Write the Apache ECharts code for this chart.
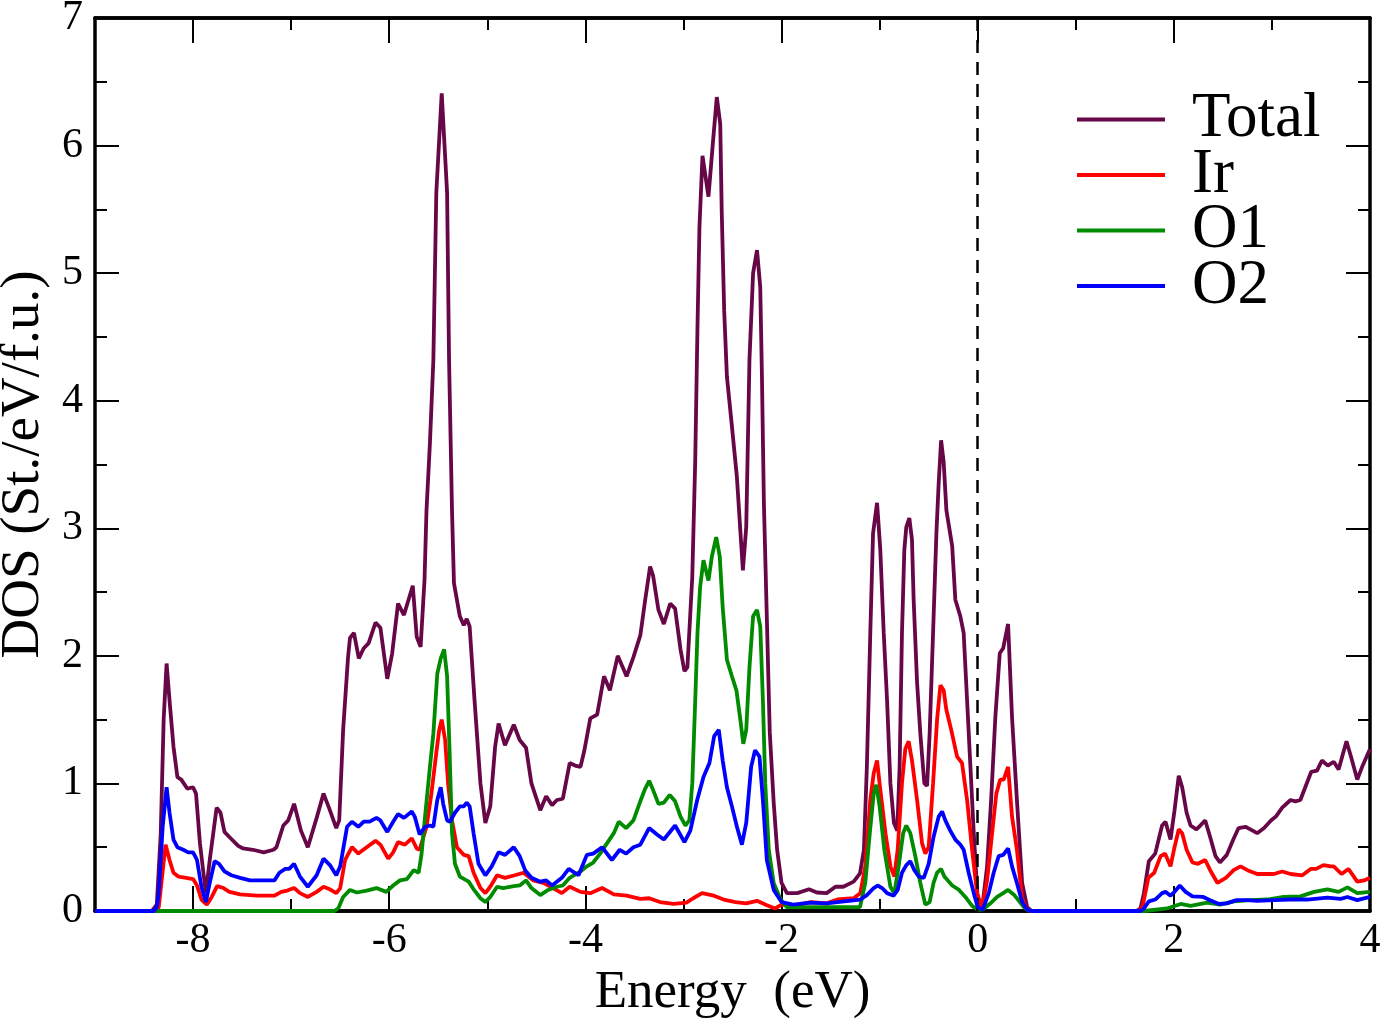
<!DOCTYPE html>
<html>
<head>
<meta charset="utf-8">
<title>DOS</title>
<script src="https://cdn.jsdelivr.net/npm/echarts@6.0.0/dist/echarts.min.js"></script>
<style>
    html, body { margin: 0; padding: 0; background: #fff; }
    #chart-container { width: 1384px; height: 1019px; }
</style>
</head>
<body>
<div id="chart-container"></div>
<script>
// 图例名称
const seriesNames = ['Total', 'Ir', 'O1', 'O2'];
const seriesColors = ['#670748', '#ff0000', '#008b00', '#0000ff'];

// 坐标轴刻度
const xMajorTicks = [-8, -6, -4, -2, 0, 2, 4];
const xMinorTicks = [-7, -5, -3, -1, 1, 3];

// [能量 (eV), DOS] 数据点
const totalDos = [
    [-9, 0], [-8.42, 0], [-8.37, 0.05], [-8.33, 0.6], [-8.30, 1.5], [-8.27, 1.94], [-8.24, 1.65], [-8.20, 1.29],
    [-8.16, 1.05], [-8.12, 1.03], [-8.06, 0.96], [-8.0, 0.97], [-7.97, 0.92], [-7.93, 0.53], [-7.87, 0.14],
    [-7.83, 0.40], [-7.76, 0.81], [-7.72, 0.77], [-7.68, 0.62], [-7.63, 0.58], [-7.54, 0.51], [-7.49, 0.49],
    [-7.39, 0.48], [-7.28, 0.46], [-7.18, 0.48], [-7.15, 0.50], [-7.08, 0.67], [-7.03, 0.71], [-6.97, 0.84],
    [-6.90, 0.63], [-6.83, 0.50], [-6.74, 0.73], [-6.67, 0.92], [-6.61, 0.80], [-6.54, 0.65], [-6.51, 0.71],
    [-6.47, 1.42], [-6.42, 1.99], [-6.40, 2.14], [-6.36, 2.18], [-6.31, 1.98], [-6.26, 2.06], [-6.21, 2.10],
    [-6.14, 2.26], [-6.09, 2.22], [-6.02, 1.82], [-5.97, 2.02], [-5.91, 2.41], [-5.85, 2.32], [-5.76, 2.55],
    [-5.72, 2.15], [-5.68, 2.07], [-5.64, 2.6], [-5.62, 3.14], [-5.585, 3.67], [-5.55, 4.32], [-5.52, 5.63],
    [-5.465, 6.41], [-5.41, 5.63], [-5.39, 4.32], [-5.36, 3.14], [-5.34, 2.57], [-5.28, 2.31], [-5.24, 2.24],
    [-5.21, 2.29], [-5.18, 2.23], [-5.13, 1.65], [-5.07, 1.0], [-5.02, 0.69], [-4.97, 0.82], [-4.92, 1.29],
    [-4.885, 1.47], [-4.82, 1.30], [-4.73, 1.46], [-4.67, 1.34], [-4.605, 1.28], [-4.55, 1.0], [-4.46, 0.79],
    [-4.40, 0.90], [-4.34, 0.83], [-4.29, 0.87], [-4.23, 0.88], [-4.16, 1.16], [-4.105, 1.14], [-4.05, 1.13],
    [-4.01, 1.26], [-3.95, 1.51], [-3.88, 1.54], [-3.81, 1.84], [-3.75, 1.73], [-3.67, 2.0], [-3.65, 1.99],
    [-3.58, 1.84], [-3.51, 1.99], [-3.44, 2.16], [-3.39, 2.44], [-3.34, 2.70], [-3.31, 2.63], [-3.255, 2.36],
    [-3.20, 2.25], [-3.135, 2.41], [-3.085, 2.37], [-3.03, 2.05], [-2.99, 1.88], [-2.96, 1.91], [-2.91, 2.62],
    [-2.88, 3.53], [-2.857, 4.58], [-2.837, 5.36], [-2.806, 5.92], [-2.745, 5.60], [-2.70, 6.02], [-2.66, 6.38],
    [-2.625, 6.17], [-2.61, 5.49], [-2.585, 4.71], [-2.557, 4.19], [-2.506, 3.80], [-2.455, 3.40], [-2.394, 2.67],
    [-2.36, 3.01], [-2.327, 4.32], [-2.29, 5.0], [-2.25, 5.18], [-2.217, 4.89], [-2.20, 4.2], [-2.18, 3.2],
    [-2.15, 2.3], [-2.12, 1.4], [-2.08, 0.85], [-2.045, 0.48], [-2.0, 0.22], [-1.945, 0.14], [-1.84, 0.14],
    [-1.72, 0.17], [-1.64, 0.145], [-1.54, 0.14], [-1.45, 0.19], [-1.37, 0.19], [-1.265, 0.23], [-1.20, 0.295],
    [-1.16, 0.48], [-1.13, 1.13], [-1.095, 2.18], [-1.067, 2.96], [-1.026, 3.20], [-0.993, 2.83], [-0.958, 2.18],
    [-0.924, 1.65], [-0.89, 1.0], [-0.854, 0.69], [-0.82, 0.63], [-0.796, 1.13], [-0.772, 2.18], [-0.748, 2.83],
    [-0.728, 3.01], [-0.697, 3.08], [-0.67, 2.91], [-0.653, 2.44], [-0.618, 1.79], [-0.585, 1.39], [-0.544, 1.0],
    [-0.516, 0.98], [-0.49, 1.39], [-0.455, 2.18], [-0.421, 2.96], [-0.398, 3.35], [-0.373, 3.69], [-0.347, 3.52],
    [-0.319, 3.14], [-0.26, 2.86], [-0.228, 2.44], [-0.177, 2.31], [-0.143, 2.18], [-0.108, 1.65], [-0.074, 1.13],
    [-0.04, 0.61], [0.0, 0.09], [0.045, 0.02], [0.096, 0.35], [0.137, 0.87], [0.18, 1.52], [0.225, 2.02],
    [0.26, 2.06], [0.31, 2.25], [0.35, 1.52], [0.40, 0.87], [0.453, 0.22], [0.504, 0.03], [0.55, 0], [1.62, 0],
    [1.66, 0.02], [1.695, 0.14], [1.745, 0.39], [1.81, 0.45], [1.88, 0.67], [1.915, 0.70], [1.966, 0.56],
    [2.007, 0.79], [2.05, 1.06], [2.085, 0.97], [2.13, 0.77], [2.17, 0.67], [2.23, 0.64], [2.27, 0.67],
    [2.32, 0.71], [2.37, 0.58], [2.425, 0.43], [2.47, 0.38], [2.54, 0.44], [2.606, 0.56], [2.66, 0.65],
    [2.73, 0.66], [2.78, 0.64], [2.85, 0.61], [2.92, 0.65], [2.99, 0.71], [3.04, 0.74], [3.105, 0.81],
    [3.19, 0.87], [3.24, 0.86], [3.29, 0.87], [3.34, 0.97], [3.40, 1.09], [3.46, 1.10], [3.51, 1.18],
    [3.57, 1.14], [3.63, 1.17], [3.68, 1.11], [3.76, 1.33], [3.81, 1.20], [3.87, 1.03], [3.92, 1.13], [4.0, 1.27]
];

const irDos = [
    [-9, 0], [-8.40, 0], [-8.35, 0.03], [-8.32, 0.24], [-8.28, 0.52], [-8.24, 0.40], [-8.20, 0.30], [-8.15, 0.27],
    [-8.07, 0.26], [-8.0, 0.25], [-7.96, 0.20], [-7.915, 0.09], [-7.86, 0.05], [-7.81, 0.11], [-7.755, 0.195],
    [-7.69, 0.18], [-7.63, 0.15], [-7.52, 0.13], [-7.35, 0.12], [-7.17, 0.12], [-7.10, 0.15], [-7.04, 0.16],
    [-6.97, 0.18], [-6.91, 0.14], [-6.83, 0.11], [-6.74, 0.15], [-6.67, 0.19], [-6.605, 0.17], [-6.54, 0.14],
    [-6.50, 0.18], [-6.45, 0.40], [-6.38, 0.50], [-6.315, 0.45], [-6.23, 0.50], [-6.14, 0.55], [-6.09, 0.52],
    [-6.01, 0.41], [-5.96, 0.46], [-5.91, 0.54], [-5.84, 0.52], [-5.77, 0.57], [-5.72, 0.49], [-5.69, 0.48],
    [-5.62, 0.66], [-5.57, 0.92], [-5.52, 1.24], [-5.49, 1.42], [-5.465, 1.50], [-5.43, 1.34], [-5.40, 1.0],
    [-5.36, 0.71], [-5.31, 0.50], [-5.24, 0.44], [-5.19, 0.43], [-5.14, 0.30], [-5.07, 0.18], [-5.02, 0.14],
    [-4.97, 0.19], [-4.90, 0.28], [-4.82, 0.26], [-4.72, 0.28], [-4.63, 0.30], [-4.53, 0.24], [-4.43, 0.22],
    [-4.33, 0.18], [-4.24, 0.14], [-4.16, 0.19], [-4.05, 0.15], [-3.95, 0.14], [-3.83, 0.18], [-3.71, 0.13],
    [-3.58, 0.12], [-3.44, 0.095], [-3.35, 0.10], [-3.24, 0.07], [-3.10, 0.055], [-2.97, 0.065], [-2.90, 0.10],
    [-2.81, 0.14], [-2.69, 0.12], [-2.59, 0.09], [-2.47, 0.07], [-2.36, 0.06], [-2.25, 0.08], [-2.15, 0.045],
    [-2.065, 0.02], [-2.0, 0.05], [-1.88, 0.04], [-1.70, 0.07], [-1.54, 0.06], [-1.43, 0.09], [-1.265, 0.10],
    [-1.197, 0.14], [-1.146, 0.35], [-1.095, 0.87], [-1.06, 1.08], [-1.026, 1.18], [-0.993, 0.95], [-0.94, 0.61],
    [-0.89, 0.35], [-0.85, 0.27], [-0.816, 0.48], [-0.772, 1.0], [-0.738, 1.27], [-0.704, 1.33], [-0.67, 1.18],
    [-0.618, 0.87], [-0.567, 0.53], [-0.534, 0.45], [-0.50, 0.50], [-0.455, 1.0], [-0.414, 1.50], [-0.38, 1.77],
    [-0.347, 1.73], [-0.32, 1.58], [-0.27, 1.42], [-0.21, 1.21], [-0.16, 1.16], [-0.108, 0.87], [-0.057, 0.48],
    [-0.006, 0.14], [0.045, 0.02], [0.096, 0.24], [0.147, 0.61], [0.19, 0.92], [0.23, 1.03], [0.265, 1.03],
    [0.31, 1.13], [0.35, 0.74], [0.40, 0.48], [0.453, 0.10], [0.504, 0.01], [0.55, 0], [1.64, 0], [1.68, 0.03],
    [1.74, 0.26], [1.80, 0.30], [1.865, 0.43], [1.91, 0.45], [1.966, 0.35], [2.007, 0.50], [2.05, 0.64],
    [2.085, 0.61], [2.13, 0.48], [2.19, 0.38], [2.245, 0.37], [2.32, 0.40], [2.37, 0.32], [2.445, 0.22],
    [2.53, 0.26], [2.61, 0.32], [2.68, 0.35], [2.75, 0.32], [2.85, 0.29], [2.95, 0.29], [3.02, 0.29],
    [3.105, 0.31], [3.19, 0.29], [3.31, 0.28], [3.395, 0.33], [3.45, 0.33], [3.525, 0.36], [3.60, 0.35],
    [3.63, 0.35], [3.71, 0.29], [3.78, 0.33], [3.87, 0.23], [3.94, 0.24], [4.0, 0.26]
];

const o1Dos = [
    [-9, 0], [-6.56, 0], [-6.52, 0.02], [-6.47, 0.11], [-6.40, 0.165], [-6.33, 0.145], [-6.23, 0.16], [-6.13, 0.18],
    [-6.03, 0.15], [-5.96, 0.20], [-5.89, 0.24], [-5.82, 0.25], [-5.75, 0.32], [-5.70, 0.30], [-5.67, 0.45],
    [-5.635, 0.74], [-5.585, 1.13], [-5.55, 1.39], [-5.51, 1.86], [-5.475, 1.98], [-5.44, 2.05], [-5.41, 1.84],
    [-5.385, 1.26], [-5.36, 0.61], [-5.33, 0.37], [-5.28, 0.27], [-5.19, 0.23], [-5.135, 0.165], [-5.07, 0.10],
    [-5.02, 0.07], [-4.97, 0.11], [-4.90, 0.19], [-4.84, 0.18], [-4.73, 0.195], [-4.67, 0.20], [-4.605, 0.24],
    [-4.55, 0.18], [-4.46, 0.125], [-4.38, 0.165], [-4.29, 0.19], [-4.23, 0.20], [-4.16, 0.26], [-4.05, 0.31],
    [-3.985, 0.35], [-3.92, 0.38], [-3.85, 0.45], [-3.78, 0.53], [-3.71, 0.61], [-3.66, 0.70], [-3.585, 0.65],
    [-3.51, 0.71], [-3.44, 0.86], [-3.39, 0.96], [-3.35, 1.02], [-3.31, 0.95], [-3.255, 0.84], [-3.20, 0.85],
    [-3.14, 0.91], [-3.085, 0.86], [-3.03, 0.74], [-2.98, 0.67], [-2.94, 0.71], [-2.91, 1.0], [-2.88, 1.65],
    [-2.857, 2.18], [-2.83, 2.54], [-2.796, 2.75], [-2.745, 2.59], [-2.71, 2.78], [-2.666, 2.93], [-2.63, 2.78],
    [-2.60, 2.38], [-2.557, 1.97], [-2.506, 1.84], [-2.46, 1.73], [-2.42, 1.50], [-2.39, 1.31], [-2.36, 1.42],
    [-2.327, 1.91], [-2.29, 2.31], [-2.25, 2.36], [-2.217, 2.23], [-2.19, 1.65], [-2.166, 1.0], [-2.13, 0.48],
    [-2.08, 0.22], [-2.01, 0.09], [-1.945, 0.03], [-1.20, 0.03], [-1.146, 0.22], [-1.10, 0.61], [-1.06, 0.92],
    [-1.034, 0.99], [-1.0, 0.82], [-0.952, 0.48], [-0.89, 0.19], [-0.85, 0.14], [-0.806, 0.35], [-0.76, 0.61],
    [-0.728, 0.67], [-0.687, 0.61], [-0.636, 0.43], [-0.585, 0.22], [-0.534, 0.05], [-0.49, 0.07], [-0.45, 0.22],
    [-0.414, 0.30], [-0.373, 0.33], [-0.34, 0.27], [-0.26, 0.20], [-0.19, 0.165], [-0.126, 0.11], [-0.057, 0.04],
    [0.0, 0.01], [0.05, 0.01], [0.13, 0.06], [0.198, 0.11], [0.26, 0.14], [0.31, 0.165], [0.367, 0.13],
    [0.42, 0.08], [0.47, 0.03], [0.504, 0.01], [0.55, 0], [1.70, 0], [1.93, 0.02], [2.07, 0.055], [2.17, 0.04],
    [2.34, 0.065], [2.47, 0.05], [2.61, 0.075], [2.78, 0.085], [2.95, 0.09], [3.12, 0.11], [3.29, 0.115],
    [3.43, 0.15], [3.565, 0.17], [3.68, 0.15], [3.77, 0.185], [3.87, 0.14], [4.0, 0.15]
];

const o2Dos = [
    [-9, 0], [-8.40, 0], [-8.37, 0.03], [-8.35, 0.14], [-8.31, 0.66], [-8.27, 0.97], [-8.24, 0.77], [-8.20, 0.56],
    [-8.16, 0.50], [-8.10, 0.48], [-8.05, 0.46], [-8.0, 0.46], [-7.96, 0.40], [-7.915, 0.19], [-7.87, 0.07],
    [-7.83, 0.22], [-7.78, 0.39], [-7.735, 0.37], [-7.68, 0.31], [-7.61, 0.28], [-7.52, 0.26], [-7.42, 0.24],
    [-7.28, 0.24], [-7.17, 0.24], [-7.12, 0.30], [-7.06, 0.33], [-7.02, 0.33], [-6.97, 0.37], [-6.91, 0.27],
    [-6.83, 0.19], [-6.74, 0.28], [-6.67, 0.41], [-6.605, 0.36], [-6.54, 0.28], [-6.50, 0.35], [-6.43, 0.66],
    [-6.38, 0.70], [-6.315, 0.66], [-6.26, 0.70], [-6.20, 0.70], [-6.13, 0.73], [-6.09, 0.71], [-6.02, 0.62],
    [-5.96, 0.70], [-5.91, 0.76], [-5.85, 0.73], [-5.77, 0.78], [-5.74, 0.74], [-5.69, 0.60], [-5.635, 0.66],
    [-5.585, 0.67], [-5.55, 0.66], [-5.51, 0.87], [-5.475, 0.97], [-5.45, 0.84], [-5.41, 0.71], [-5.38, 0.70],
    [-5.33, 0.77], [-5.28, 0.82], [-5.24, 0.82], [-5.21, 0.85], [-5.18, 0.82], [-5.14, 0.61], [-5.09, 0.37],
    [-5.02, 0.28], [-4.955, 0.35], [-4.885, 0.46], [-4.82, 0.44], [-4.73, 0.50], [-4.67, 0.43], [-4.615, 0.32],
    [-4.55, 0.26], [-4.46, 0.23], [-4.40, 0.24], [-4.34, 0.20], [-4.24, 0.26], [-4.17, 0.33], [-4.07, 0.28],
    [-3.985, 0.44], [-3.92, 0.45], [-3.83, 0.50], [-3.73, 0.40], [-3.65, 0.48], [-3.585, 0.45], [-3.51, 0.50],
    [-3.44, 0.52], [-3.35, 0.65], [-3.27, 0.60], [-3.20, 0.56], [-3.085, 0.67], [-2.99, 0.54], [-2.93, 0.63],
    [-2.86, 0.87], [-2.796, 1.05], [-2.735, 1.16], [-2.687, 1.37], [-2.64, 1.42], [-2.60, 1.18], [-2.557, 0.97],
    [-2.506, 0.82], [-2.455, 0.66], [-2.404, 0.52], [-2.36, 0.69], [-2.31, 1.13], [-2.27, 1.26], [-2.225, 1.21],
    [-2.19, 0.87], [-2.15, 0.40], [-2.08, 0.165], [-2.0, 0.07], [-1.88, 0.05], [-1.71, 0.065], [-1.54, 0.06],
    [-1.43, 0.07], [-1.197, 0.09], [-1.13, 0.125], [-1.06, 0.18], [-1.02, 0.20], [-0.975, 0.18], [-0.924, 0.14],
    [-0.857, 0.12], [-0.816, 0.165], [-0.772, 0.30], [-0.728, 0.36], [-0.687, 0.39], [-0.646, 0.32], [-0.60, 0.27],
    [-0.55, 0.26], [-0.50, 0.37], [-0.45, 0.58], [-0.398, 0.74], [-0.363, 0.78], [-0.33, 0.71], [-0.28, 0.63],
    [-0.228, 0.56], [-0.177, 0.52], [-0.143, 0.48], [-0.092, 0.30], [-0.04, 0.14], [0.0, 0.03], [0.05, 0.01],
    [0.113, 0.14], [0.163, 0.30], [0.214, 0.43], [0.26, 0.44], [0.31, 0.49], [0.35, 0.35], [0.40, 0.22],
    [0.453, 0.07], [0.504, 0.01], [0.55, 0], [1.66, 0], [1.695, 0.02], [1.745, 0.075], [1.81, 0.09], [1.88, 0.14],
    [1.915, 0.15], [1.966, 0.12], [2.007, 0.15], [2.06, 0.20], [2.12, 0.15], [2.19, 0.115], [2.30, 0.11],
    [2.37, 0.085], [2.46, 0.055], [2.54, 0.06], [2.64, 0.085], [2.75, 0.085], [2.85, 0.08], [3.02, 0.085],
    [3.19, 0.09], [3.36, 0.09], [3.565, 0.105], [3.70, 0.095], [3.77, 0.11], [3.87, 0.085], [4.0, 0.11]
];

const dosData = [totalDos, irDos, o1Dos, o2Dos];

const FONT = "'Liberation Serif', 'Times New Roman', serif";

document.addEventListener('DOMContentLoaded', () => {
    initChart();
});

// 生成一根 x 轴（主刻度/次刻度，上/下）
function makeXAxis(position, ticks, len, withLabel) {
    return {
        type: 'value',
        position: position,
        min: -9,
        max: 4,
        axisLine: { show: true, onZero: false, lineStyle: { color: '#000', width: 3.5 } },
        axisTick: {
            show: true, inside: true, length: len, customValues: ticks,
            lineStyle: { color: '#000', width: 2 }
        },
        axisLabel: withLabel ? {
            show: true, customValues: ticks, margin: 9,
            color: '#000', fontSize: 42, fontFamily: FONT
        } : { show: false },
        splitLine: { show: false }
    };
}

// 生成一根 y 轴
function makeYAxis(position, withLabel) {
    return {
        type: 'value',
        position: position,
        min: 0,
        max: 7,
        interval: 1,
        axisLine: { show: true, onZero: false, lineStyle: { color: '#000', width: 3.5 } },
        axisTick: { show: true, inside: true, length: 24, lineStyle: { color: '#000', width: 2 } },
        minorTick: { show: true, splitNumber: 2, length: 12, lineStyle: { color: '#000', width: 2 } },
        axisLabel: withLabel ? {
            show: true, margin: 12, color: '#000', fontSize: 42, fontFamily: FONT
        } : { show: false },
        splitLine: { show: false },
        minorSplitLine: { show: false }
    };
}

// 初始化图表
function initChart() {
    const chartContainer = document.getElementById('chart-container');
    if (!chartContainer) {
        console.error('Element with id "chart-container" not found.');
        return;
    }
    const myChart = echarts.init(chartContainer, null, { renderer: 'canvas' });

    const xMain = makeXAxis('bottom', xMajorTicks, 25, true);
    xMain.name = 'Energy  (eV)';
    xMain.nameLocation = 'middle';
    xMain.nameGap = 45;
    xMain.nameTextStyle = { color: '#000', fontSize: 53, fontFamily: FONT };

    const yMain = makeYAxis('left', true);
    yMain.name = 'DOS (St./eV/f.u.)';
    yMain.nameLocation = 'middle';
    yMain.nameGap = 39;
    yMain.nameTextStyle = { color: '#000', fontSize: 55, fontFamily: FONT };

    const series = seriesNames.map((name, i) => ({
        name: name,
        type: 'line',
        xAxisIndex: 0,
        yAxisIndex: 0,
        data: dosData[i],
        showSymbol: false,
        symbol: 'none',
        color: seriesColors[i],
        lineStyle: { color: seriesColors[i], width: 3.8 },
        z: 2 + i
    }));

    // 费米能级虚线
    series[0].markLine = {
        silent: true,
        symbol: 'none',
        label: { show: false },
        lineStyle: { color: '#000', type: [13, 9], width: 2.5 },
        data: [{ xAxis: 0 }]
    };

    const option = {
        animation: false,
        backgroundColor: '#fff',
        grid: {
            left: 95, right: 14, top: 18, bottom: 108,
            containLabel: false, outerBoundsMode: 'none'
        },
        legend: {
            data: seriesNames,
            orient: 'vertical',
            left: 1077,
            top: 88,
            padding: 0,
            icon: 'rect',
            itemWidth: 88,
            itemHeight: 4,
            itemGap: -7.5,
            textStyle: {
                color: '#000', fontSize: 63, fontFamily: FONT,
                padding: [0, 0, 0, 22]
            }
        },
        xAxis: [
            xMain,
            makeXAxis('bottom', xMinorTicks, 12, false),
            makeXAxis('top', xMajorTicks, 25, false),
            makeXAxis('top', xMinorTicks, 12, false)
        ],
        yAxis: [
            yMain,
            makeYAxis('right', false)
        ],
        series: series
    };
    myChart.setOption(option);
}
</script>
</body>
</html>
